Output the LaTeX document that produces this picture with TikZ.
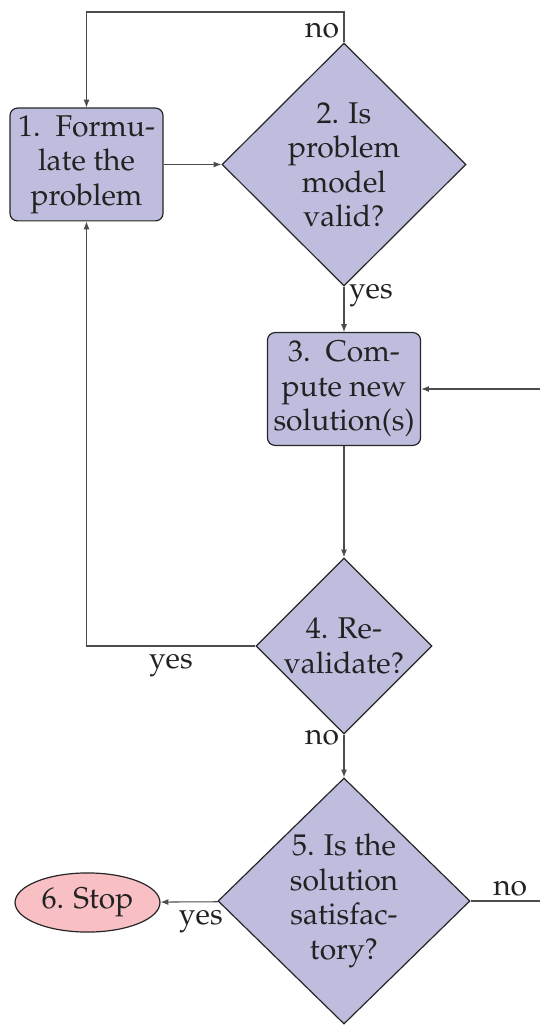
\documentclass[tikz,border=0pt]{standalone}
\usepackage[T1]{fontenc}
\usepackage{mathpazo}
\usetikzlibrary{shapes.geometric,arrows.meta}
\definecolor{nodefill}{RGB}{190,189,222}
\definecolor{stopfill}{RGB}{248,192,196}
\definecolor{inkgray}{RGB}{34,34,34}
\begin{document}
\begin{tikzpicture}[x=0.3333pt,y=-0.3333pt,
  every node/.style={font=\fontsize{10}{11.5}\selectfont, text=inkgray},
  blockbox/.style={rectangle, draw=black!85, fill=nodefill, rounded corners=2.5pt,
    minimum width=51pt, minimum height=37.6pt, align=center, inner sep=0pt},
  decision/.style={diamond, draw=black!85, fill=nodefill, inner sep=0pt, align=center},
  stopnode/.style={ellipse, draw=black!85, fill=stopfill, minimum width=48.3pt,
    minimum height=19.7pt, inner sep=0pt},
  conn/.style={draw=black!70, line width=0.35pt, -{Latex[length=2.6pt,width=2pt]}},
  lbl/.style={inner sep=1.5pt}
]
\useasboundingbox (0,0) rectangle (540,1025);

% nodes
\node[blockbox] (n1) at (86.5,164.5) {1.\hspace{0.5em}Formu-\\late the\\problem};
\node[decision, minimum width=81.3pt, minimum height=81pt] (n2) at (344,164.5)
  {2. Is\\problem\\model\\valid?};
\node[blockbox] (n3) at (344,389) {3.\hspace{0.5em}Com-\\pute new\\solution(s)};
\node[decision, minimum width=58.3pt, minimum height=58.3pt] (n4) at (344,646)
  {4. Re-\\validate?};
\node[decision, minimum width=84pt, minimum height=82pt] (n5) at (344,901)
  {5. Is the\\solution\\satisfac-\\tory?};
\node[stopnode] (n6) at (87.5,902.5) {6. Stop};

\coordinate (inright) at (540,389);
\coordinate (outright) at (540,901);

% connectors
\draw[conn] (n2.north) -- node[lbl, left, pos=0.4] {no} (n2.north |- {(0,12)}) -| (n1.north);
\draw[conn] (n1) -- (n2);
\draw[conn] (n2) -- node[lbl, right, pos=0.2] {yes} (n3);
\draw[conn] (inright) -- (n3);
\draw[conn] (n3) -- (n4);
\draw[conn] (n4.west) -- node[lbl, below, midway, yshift=-1pt] {yes} (n1.south |- n4.west) -- (n1.south);
\draw[conn] (n4) -- node[lbl, left, pos=0.06] {no} (n5);
\draw[conn] (n5) -- node[lbl, below, pos=0.3, yshift=-1pt] {yes} (n6);
\draw[draw=black!70, line width=0.35pt] (n5.east) -- node[lbl, above, pos=0.57] {no} (outright);
\end{tikzpicture}
\end{document}
